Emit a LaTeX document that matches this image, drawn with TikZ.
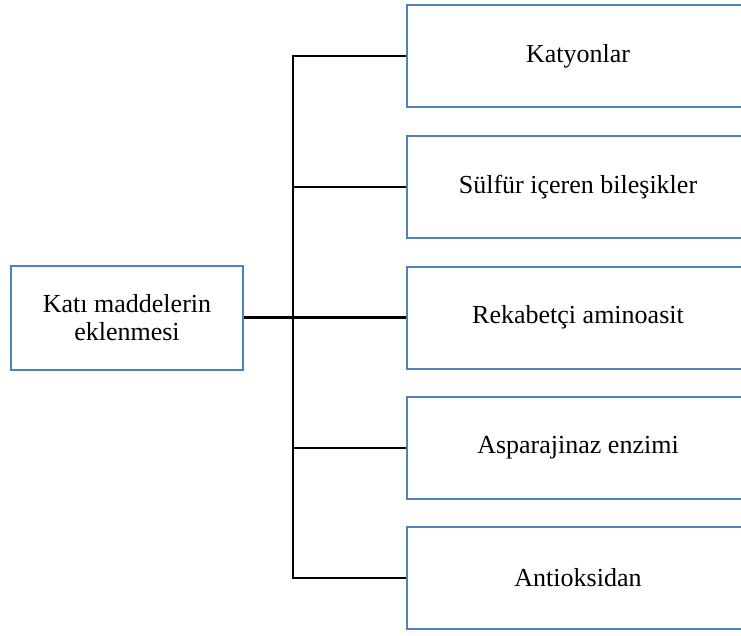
\documentclass[tikz,border=0pt]{standalone}
\usepackage{fontspec}
\setmainfont{Liberation Serif}
\definecolor{boxblue}{HTML}{4F81BD}
\begin{document}
\begin{tikzpicture}[x=1pt,y=-1pt,
  box/.style={draw=boxblue, line width=2pt, fill=white, inner sep=0pt, align=center,
    font=\fontsize{26}{28}\selectfont},
  rbox/.style={box, minimum width=342pt, minimum height=102pt},
  conn/.style={draw=black, line width=2.2pt, line join=miter}]
\useasboundingbox (0,0) rectangle (741,635);
\clip (0,0) rectangle (741,635);
\node[box, minimum width=232pt, minimum height=104pt] (left) at (127,317.5) {Katı maddelerin\\eklenmesi};
\node[rbox] (b1) at (578,56) {Katyonlar};
\node[rbox] (b2) at (578,187) {Sülfür içeren bileşikler};
\node[rbox] (b3) at (578,317.5) {Rekabetçi aminoasit};
\node[rbox] (b4) at (578,448) {Asparajinaz enzimi};
\node[rbox] (b5) at (578,578) {Antioksidan};
\coordinate (t1) at (293,56);
\coordinate (t2) at (293,187);
\coordinate (t3) at (293,317.5);
\coordinate (t4) at (293,448);
\coordinate (t5) at (293,578);
\draw[conn] (b1.west) -- (t1) -- (t5) -- (b5.west);
\draw[conn] (left.east) -- (t3);
\draw[conn] (t2) -- (b2.west);
\draw[conn] (t3) -- (b3.west);
\draw[conn] (t4) -- (b4.west);
\end{tikzpicture}
\end{document}
